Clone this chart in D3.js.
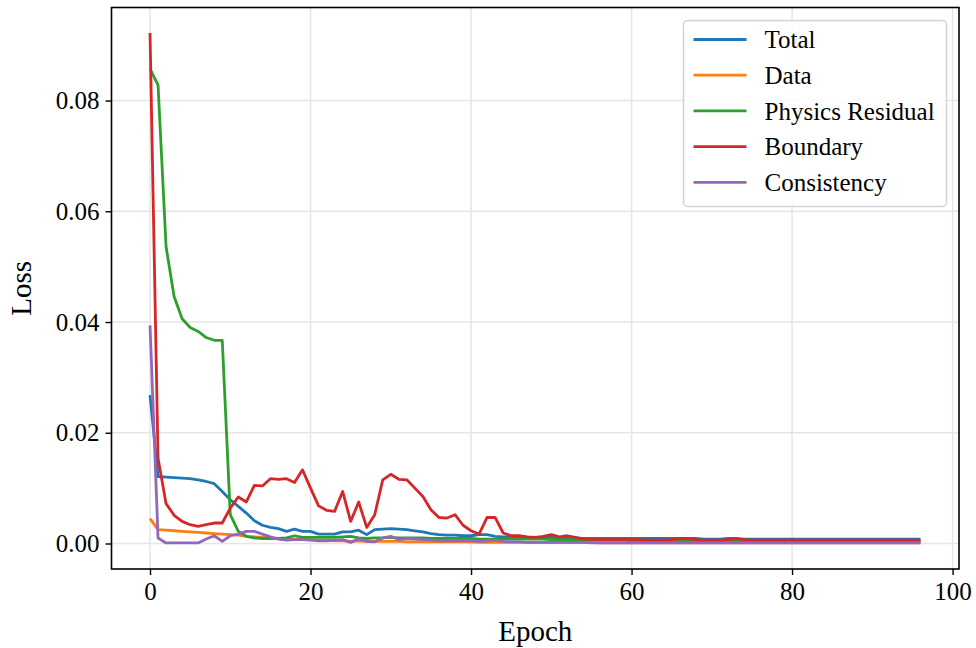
<!DOCTYPE html>
<html>
<head>
<meta charset="utf-8">
<script src="https://cdn.jsdelivr.net/npm/d3@7"></script>
<style>
  body { margin: 0; background: #fff; }
  svg text { font-family: "Liberation Serif", "Times New Roman", serif; fill: #000; }
</style>
</head>
<body>
<svg id="chart" width="976" height="648"></svg>
<script>
// loss history per epoch, one array per term
const epochs = d3.range(97)

const total = [
  0.0268, 0.0121, 0.0120, 0.0119, 0.0118, 0.0117, 0.0115, 0.0112, 0.0108, 0.0094,
  0.0079, 0.0067, 0.0055, 0.0041, 0.0033, 0.0029, 0.0027, 0.0022, 0.0026, 0.0022,
  0.0022, 0.0017, 0.0017, 0.0017, 0.0021, 0.0021, 0.0024, 0.0016, 0.0025, 0.0026,
  0.0027, 0.0026, 0.0025, 0.0023, 0.0021, 0.0018, 0.0016, 0.0015, 0.0015, 0.0014,
  0.0014, 0.0016, 0.0016, 0.0013, 0.0012, 0.0012, 0.0012, 0.0011, 0.0011, 0.0011,
  0.0011, 0.0010, 0.0010, 0.0010, 0.0009, 0.0009, 0.0009, 0.0009, 0.0009, 0.0009,
  0.0009, 0.0009, 0.0009, 0.0009, 0.0009, 0.0009, 0.0009, 0.0009, 0.0009, 0.0008,
  0.0008, 0.0008, 0.0009, 0.0009, 0.0008, 0.0008, 0.0008, 0.0008, 0.0008, 0.0008,
  0.0008, 0.0008, 0.0008, 0.0008, 0.0008, 0.0008, 0.0008, 0.0008, 0.0008, 0.0008,
  0.0008, 0.0008, 0.0008, 0.0008, 0.0008, 0.0008, 0.0008
]
const dataLoss = [
  0.0045, 0.0025, 0.0024, 0.0023, 0.0022, 0.0021, 0.0020, 0.0019, 0.0018, 0.0017,
  0.0016, 0.0015, 0.0013, 0.0012, 0.0011, 0.0010, 0.0009, 0.0008, 0.0008, 0.0007,
  0.0007, 0.0006, 0.0006, 0.0005, 0.0005, 0.0004, 0.0005, 0.0004, 0.0004, 0.0004,
  0.0004, 0.0004, 0.0003, 0.0003, 0.0003, 0.0003, 0.0003, 0.0003, 0.0003, 0.0003,
  0.0003, 0.0002, 0.0002, 0.0002, 0.0002, 0.0002, 0.0002, 0.0002, 0.0002, 0.0002,
  0.0002, 0.0002, 0.0002, 0.0002, 0.0002, 0.0002, 0.0001, 0.0001, 0.0001, 0.0001,
  0.0001, 0.0001, 0.0001, 0.0001, 0.0001, 0.0001, 0.0001, 0.0001, 0.0001, 0.0001,
  0.0001, 0.0001, 0.0001, 0.0001, 0.0001, 0.0001, 0.0001, 0.0001, 0.0001, 0.0001,
  0.0001, 0.0001, 0.0001, 0.0001, 0.0001, 0.0001, 0.0001, 0.0001, 0.0001, 0.0001,
  0.0001, 0.0001, 0.0001, 0.0001, 0.0001, 0.0001, 0.0001
]
const physics = [
  0.0857, 0.0828, 0.0536, 0.0446, 0.0406, 0.0390, 0.0383, 0.0372, 0.0367, 0.0367,
  0.0052, 0.0022, 0.0013, 0.0010, 0.0009, 0.0009, 0.0009, 0.0010, 0.0014, 0.0011,
  0.0011, 0.0011, 0.0011, 0.0011, 0.0012, 0.0013, 0.0010, 0.0009, 0.0010, 0.0010,
  0.0011, 0.0010, 0.0010, 0.0010, 0.0010, 0.0009, 0.0009, 0.0009, 0.0009, 0.0009,
  0.0009, 0.0008, 0.0008, 0.0008, 0.0008, 0.0008, 0.0008, 0.0008, 0.0008, 0.0008,
  0.0007, 0.0007, 0.0007, 0.0007, 0.0007, 0.0006, 0.0006, 0.0006, 0.0006, 0.0006,
  0.0005, 0.0005, 0.0005, 0.0005, 0.0005, 0.0005, 0.0005, 0.0005, 0.0005, 0.0005,
  0.0004, 0.0004, 0.0004, 0.0004, 0.0004, 0.0004, 0.0004, 0.0004, 0.0004, 0.0004,
  0.0004, 0.0004, 0.0004, 0.0004, 0.0004, 0.0003, 0.0003, 0.0003, 0.0003, 0.0003,
  0.0003, 0.0003, 0.0003, 0.0003, 0.0003, 0.0003, 0.0003
]
const boundary = [
  0.0922, 0.0154, 0.0072, 0.0051, 0.0040, 0.0034, 0.0031, 0.0034, 0.0037, 0.0037,
  0.0064, 0.0084, 0.0075, 0.0105, 0.0104, 0.0117, 0.0116, 0.0117, 0.0110, 0.0133,
  0.0100, 0.0068, 0.0060, 0.0058, 0.0094, 0.0040, 0.0075, 0.0029, 0.0052, 0.0115,
  0.0125, 0.0116, 0.0115, 0.0100, 0.0085, 0.0061, 0.0047, 0.0046, 0.0052, 0.0033,
  0.0023, 0.0017, 0.0047, 0.0047, 0.0019, 0.0014, 0.0014, 0.0012, 0.0011, 0.0013,
  0.0016, 0.0012, 0.0014, 0.0011, 0.0008, 0.0008, 0.0007, 0.0007, 0.0007, 0.0007,
  0.0008, 0.0007, 0.0006, 0.0006, 0.0006, 0.0007, 0.0009, 0.0009, 0.0007, 0.0006,
  0.0006, 0.0006, 0.0007, 0.0009, 0.0007, 0.0006, 0.0006, 0.0006, 0.0006, 0.0006,
  0.0006, 0.0006, 0.0006, 0.0006, 0.0006, 0.0006, 0.0006, 0.0006, 0.0006, 0.0006,
  0.0006, 0.0006, 0.0006, 0.0006, 0.0006, 0.0006, 0.0006
]
const consistency = [
  0.0394, 0.0010, 0.0001, 0.0001, 0.0001, 0.0001, 0.0001, 0.0008, 0.0014, 0.0004,
  0.0014, 0.0017, 0.0022, 0.0022, 0.0017, 0.0012, 0.0008, 0.0006, 0.0007, 0.0007,
  0.0006, 0.0005, 0.0005, 0.0006, 0.0007, 0.0002, 0.0008, 0.0004, 0.0003, 0.0010,
  0.0013, 0.0007, 0.0009, 0.0008, 0.0007, 0.0006, 0.0005, 0.0005, 0.0005, 0.0005,
  0.0005, 0.0004, 0.0005, 0.0006, 0.0004, 0.0003, 0.0003, 0.0002, 0.0002, 0.0002,
  0.0002, 0.0002, 0.0002, 0.0002, 0.0002, 0.0001, 0.0001, 0.0001, 0.0001, 0.0001,
  0.0001, 0.0001, 0.0001, 0.0001, 0.0001, 0.0001, 0.0001, 0.0001, 0.0001, 0.0001,
  0.0001, 0.0001, 0.0001, 0.0001, 0.0001, 0.0001, 0.0001, 0.0001, 0.0001, 0.0001,
  0.0001, 0.0001, 0.0001, 0.0001, 0.0001, 0.0001, 0.0001, 0.0001, 0.0001, 0.0001,
  0.0001, 0.0001, 0.0001, 0.0001, 0.0001, 0.0001, 0.0001
]

const names = ["Total", "Data", "Physics Residual", "Boundary", "Consistency"]
const colors = ["#1f77b4", "#ff7f0e", "#2ca02c", "#d62728", "#9467bd"]
const series = [total, dataLoss, physics, boundary, consistency]
const xTicks = [0, 20, 40, 60, 80, 100]
const yTicks = [0, 0.02, 0.04, 0.06, 0.08]

const svg = d3.select("#chart")
const plotL = 111.5, plotR = 959, plotT = 7.5, plotB = 569

// 5% padding on both ends, like the plotting default
const xMin = d3.min(epochs), xMax = d3.max(epochs)
const xPad = (xMax - xMin) * 0.05
const x = d3.scaleLinear().domain([xMin - xPad, xMax + xPad]).range([plotL, plotR])

const yMin = d3.min(series, s => d3.min(s)), yMax = d3.max(series, s => d3.max(s))
const yPad = (yMax - yMin) * 0.05
const y = d3.scaleLinear().domain([yMin - yPad - 0.0001, yMax + yPad]).range([plotB, plotT])

// grid
const grid = svg.append("g").attr("stroke", "#e6e6e6").attr("stroke-width", 1.5)
xTicks.forEach(t => {
  grid.append("line").attr("x1", x(t)).attr("x2", x(t)).attr("y1", plotT).attr("y2", plotB)
})
yTicks.forEach(t => {
  grid.append("line").attr("x1", plotL).attr("x2", plotR).attr("y1", y(t)).attr("y2", y(t))
})

// loss curves
const line = d3.line().x((d, i) => x(epochs[i])).y(d => y(d))
series.forEach((s, i) => {
  svg.append("path")
    .datum(s)
    .attr("d", line)
    .attr("fill", "none")
    .attr("stroke", colors[i])
    .attr("stroke-width", 2.8)
    .attr("stroke-linejoin", "round")
})

// axes
const xAxis = svg.append("g")
  .attr("transform", `translate(0,${plotB})`)
  .call(d3.axisBottom(x).tickValues(xTicks).tickFormat(d3.format("d")).tickSize(6).tickSizeOuter(0).tickPadding(7))
const yAxis = svg.append("g")
  .attr("transform", `translate(${plotL},0)`)
  .call(d3.axisLeft(y).tickValues(yTicks).tickFormat(d3.format(".2f")).tickSize(6).tickSizeOuter(0).tickPadding(6))
;[xAxis, yAxis].forEach(a => {
  a.select(".domain").remove()
  a.selectAll(".tick line").attr("stroke", "#000").attr("stroke-width", 1.4)
  a.selectAll(".tick text").style("font-family", "Liberation Serif").style("font-size", "25px")
})

svg.append("rect")
  .attr("x", plotL).attr("y", plotT)
  .attr("width", plotR - plotL).attr("height", plotB - plotT)
  .attr("fill", "none").attr("stroke", "#000").attr("stroke-width", 1.6)

svg.append("text")
  .attr("x", (plotL + plotR) / 2).attr("y", 641)
  .attr("text-anchor", "middle")
  .style("font-size", "29px")
  .text("Epoch")
svg.append("text")
  .attr("transform", `translate(31,${(plotT + plotB) / 2}) rotate(-90)`)
  .attr("text-anchor", "middle")
  .style("font-size", "29px")
  .text("Loss")

// legend
const lg = svg.append("g").attr("transform", "translate(683.5,20.5)")
lg.append("rect")
  .attr("width", 263).attr("height", 186).attr("rx", 4)
  .attr("fill", "#fff").attr("fill-opacity", 0.8)
  .attr("stroke", "#d4d4d4").attr("stroke-width", 1.5)
names.forEach((n, i) => {
  const row = lg.append("g").attr("transform", `translate(0,${19 + i * 35.7})`)
  row.append("line").attr("x1", 10).attr("x2", 63)
    .attr("stroke", colors[i]).attr("stroke-width", 2.8)
  row.append("text").attr("x", 81).attr("dy", "0.35em")
    .style("font-size", "25px").text(n)
})
</script>
</body>
</html>
